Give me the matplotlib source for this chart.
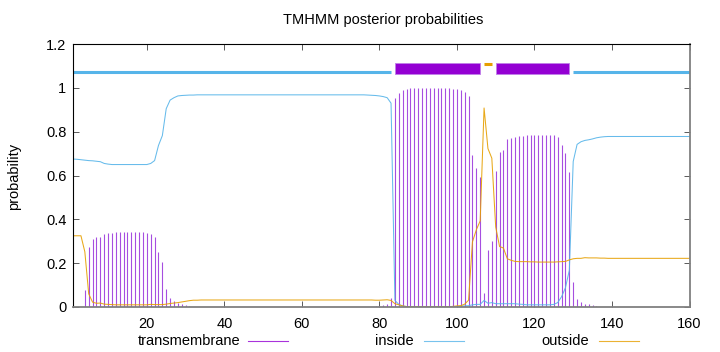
import matplotlib.pyplot as plt
from matplotlib.lines import Line2D
import numpy as np

plt.rcParams['font.family'] = ['Liberation Sans', 'DejaVu Sans']

# posterior probabilities per residue (1..160)
residues = np.arange(1, 161)

transmembrane = [
    0, 0, 0, 0.078, 0.272, 0.31, 0.318, 0.319, 0.332, 0.336,
    0.339, 0.341, 0.341, 0.341, 0.341, 0.341, 0.341, 0.341, 0.341, 0.339,
    0.333, 0.321, 0.252, 0.207, 0.082, 0.04, 0.027, 0.017, 0.012, 0.008,
    0.004, 0.002, 0.001, 0, 0, 0, 0, 0, 0, 0,
    0, 0, 0, 0, 0, 0, 0, 0, 0, 0,
    0, 0, 0, 0, 0, 0, 0, 0, 0, 0,
    0, 0, 0, 0, 0, 0, 0, 0, 0, 0,
    0, 0, 0, 0, 0, 0, 0.001, 0.002, 0.004, 0.006,
    0.008, 0.012, 0.04, 0.955, 0.978, 0.99, 0.996, 0.998, 0.998, 0.998,
    0.998, 0.998, 0.998, 0.998, 0.998, 0.998, 0.998, 0.998, 0.995, 0.993,
    0.99, 0.982, 0.963, 0.693, 0.636, 0.595, 0.062, 0.26, 0.301, 0.62,
    0.709, 0.716, 0.765, 0.772, 0.777, 0.78, 0.782, 0.785, 0.785, 0.785,
    0.785, 0.785, 0.785, 0.785, 0.785, 0.774, 0.739, 0.704, 0.617, 0.116,
    0.036, 0.024, 0.015, 0.013, 0.009, 0.004, 0.002, 0, 0, 0,
    0, 0, 0, 0, 0, 0, 0, 0, 0, 0,
    0, 0, 0, 0, 0, 0, 0, 0, 0, 0,
]

inside = [
    0.675, 0.674, 0.672, 0.67, 0.668, 0.667, 0.665, 0.663, 0.655, 0.652,
    0.65, 0.65, 0.65, 0.65, 0.65, 0.65, 0.65, 0.65, 0.65, 0.65,
    0.655, 0.668, 0.737, 0.782, 0.905, 0.944, 0.955, 0.963, 0.965, 0.966,
    0.967, 0.967, 0.968, 0.968, 0.968, 0.968, 0.968, 0.968, 0.968, 0.968,
    0.968, 0.968, 0.968, 0.968, 0.968, 0.968, 0.968, 0.968, 0.968, 0.968,
    0.968, 0.968, 0.968, 0.968, 0.968, 0.968, 0.968, 0.968, 0.968, 0.968,
    0.968, 0.968, 0.968, 0.968, 0.968, 0.968, 0.968, 0.968, 0.968, 0.968,
    0.968, 0.968, 0.968, 0.968, 0.968, 0.968, 0.967, 0.966, 0.965, 0.963,
    0.96, 0.955, 0.93, 0.03, 0.012, 0.005, 0.002, 0.001, 0.001, 0.001,
    0.001, 0.001, 0.001, 0.001, 0.001, 0.001, 0.001, 0.001, 0.001, 0.002,
    0.004, 0.005, 0.006, 0.01, 0.012, 0.012, 0.03, 0.017, 0.02, 0.015,
    0.015, 0.015, 0.015, 0.015, 0.015, 0.013, 0.012, 0.01, 0.01, 0.01,
    0.01, 0.01, 0.01, 0.01, 0.012, 0.02, 0.047, 0.088, 0.168, 0.664,
    0.742, 0.754, 0.76, 0.763, 0.767, 0.772, 0.775, 0.777, 0.778, 0.778,
    0.778, 0.778, 0.778, 0.778, 0.778, 0.778, 0.778, 0.778, 0.778, 0.778,
    0.778, 0.778, 0.778, 0.778, 0.778, 0.778, 0.778, 0.778, 0.778, 0.778,
]

outside = [
    0.325, 0.325, 0.325, 0.252, 0.06, 0.022, 0.017, 0.018, 0.013, 0.012,
    0.011, 0.01, 0.01, 0.01, 0.01, 0.01, 0.01, 0.01, 0.01, 0.01,
    0.012, 0.011, 0.011, 0.011, 0.013, 0.016, 0.018, 0.02, 0.023, 0.026,
    0.029, 0.031, 0.031, 0.032, 0.032, 0.032, 0.032, 0.032, 0.032, 0.032,
    0.032, 0.032, 0.032, 0.032, 0.032, 0.032, 0.032, 0.032, 0.032, 0.032,
    0.032, 0.032, 0.032, 0.032, 0.032, 0.032, 0.032, 0.032, 0.032, 0.032,
    0.032, 0.032, 0.032, 0.032, 0.032, 0.032, 0.032, 0.032, 0.032, 0.032,
    0.032, 0.032, 0.032, 0.032, 0.032, 0.032, 0.032, 0.032, 0.031, 0.031,
    0.032, 0.033, 0.03, 0.015, 0.01, 0.005, 0.002, 0.001, 0.001, 0.001,
    0.001, 0.001, 0.001, 0.001, 0.001, 0.001, 0.001, 0.001, 0.003, 0.005,
    0.006, 0.013, 0.031, 0.297, 0.352, 0.393, 0.908, 0.723, 0.679, 0.365,
    0.276, 0.269, 0.22, 0.213, 0.208, 0.207, 0.207, 0.207, 0.206, 0.206,
    0.205, 0.205, 0.205, 0.205, 0.205, 0.206, 0.207, 0.208, 0.215, 0.22,
    0.222, 0.222, 0.225, 0.224, 0.224, 0.224, 0.223, 0.223, 0.222, 0.222,
    0.222, 0.222, 0.222, 0.222, 0.222, 0.222, 0.222, 0.222, 0.222, 0.222,
    0.222, 0.222, 0.222, 0.222, 0.222, 0.222, 0.222, 0.222, 0.222, 0.222,
]

# predicted topology (start, end) shown above the curves
inside_segments = [(1, 83), (130, 160)]
tm_segments = [(84, 106), (110, 129)]
outside_segments = [(107, 109)]

xticks = [20, 40, 60, 80, 100, 120, 140, 160]
yticks = [0, 0.2, 0.4, 0.6, 0.8, 1.0, 1.2]
ytick_labels = ['0', '0.2', '0.4', '0.6', '0.8', '1', '1.2']

c_tm = '#9400D3'
c_in = '#56B4E9'
c_out = '#E69F00'

W, H = 720, 352
fig = plt.figure(figsize=(W / 100, H / 100), dpi=100)
ax = fig.add_axes([73.2 / W, 45 / H, 616.3 / W, 263 / H])

ax.vlines(residues, 0, transmembrane, color='#a64ee0', lw=0.8)
ax.plot(residues, inside, color=c_in, lw=0.75, alpha=0.9)
ax.plot(residues, outside, color=c_out, lw=0.75, alpha=0.9)

# topology track
for s, e in inside_segments:
    ax.plot([s, e], [1.071, 1.071], color=c_in, lw=2.2, solid_capstyle='butt')
for s, e in outside_segments:
    ax.plot([s, e], [1.109, 1.109], color=c_out, lw=2.2, solid_capstyle='butt')
ax.broken_barh([(s, e - s) for s, e in tm_segments], (1.064, 0.048),
               facecolor=c_tm, edgecolor='#c080e8', lw=0.6)

ax.set_xlim(1, 160)
ax.set_ylim(0, 1.2)
ax.set_xticks(xticks)
ax.set_yticks(yticks)
ax.set_yticklabels(ytick_labels)
ax.tick_params(direction='in', length=4, width=0.6, labelsize=10.5,
               top=True, right=True, color='#404040')
ax.tick_params(axis='x', pad=7)
ax.tick_params(axis='y', pad=5)
for side in ['left', 'top']:
    ax.spines[side].set_linewidth(0.8)
    ax.spines[side].set_color('black')
for side in ['bottom', 'right']:
    ax.spines[side].set_linewidth(1.3)
    ax.spines[side].set_color('#808080')

fig.text(383 / W, 1 - 20 / H, 'TMHMM posterior probabilities',
         ha='center', va='center', fontsize=10.5)
fig.text(14 / W, 1 - 176 / H, 'probability', rotation=90,
         ha='center', va='center', fontsize=10.5)

# gnuplot style key below the plot
key = [('transmembrane', c_tm, 240, 248), ('inside', c_in, 414, 424),
       ('outside', c_out, 589, 599)]
ky = 1 - 341 / H
for label, col, tx, lx in key:
    fig.text(tx / W, ky, label, ha='right', va='center', fontsize=10.5)
    fig.add_artist(Line2D([lx / W, (lx + 40) / W], [ky, ky], color=col,
                          lw=0.8, alpha=0.8, transform=fig.transFigure))

fig.savefig('out.png', dpi=100)
